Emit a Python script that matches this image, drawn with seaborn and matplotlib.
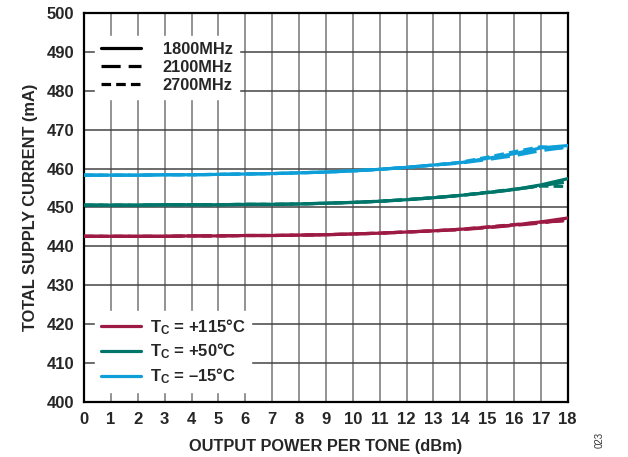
import numpy as np
import pandas as pd
import matplotlib
matplotlib.use("Agg")
import matplotlib.pyplot as plt
from matplotlib.lines import Line2D
import seaborn as sns

# Output power per tone (dBm)
power = [0, 1, 2, 3, 4, 5, 6, 7, 8, 9, 10, 11, 12, 13, 14, 15, 16, 17, 18]

# Total supply current (mA) per case temperature and frequency
red_1800 = [442.6, 442.6, 442.6, 442.6, 442.7, 442.7, 442.8, 442.8, 442.9, 443.0, 443.2, 443.4, 443.7, 444.0, 444.4, 444.9, 445.5, 446.3, 447.3]
red_2100 = [442.6, 442.6, 442.6, 442.6, 442.7, 442.7, 442.8, 442.8, 442.9, 443.0, 443.2, 443.4, 443.7, 444.0, 444.3, 444.8, 445.4, 446.0, 446.9]
red_2700 = [442.6, 442.6, 442.6, 442.6, 442.7, 442.7, 442.8, 442.8, 442.9, 443.0, 443.2, 443.4, 443.7, 444.0, 444.4, 445.0, 445.6, 446.2, 446.6]

green_1800 = [450.6, 450.6, 450.6, 450.7, 450.7, 450.7, 450.8, 450.8, 450.9, 451.1, 451.3, 451.6, 452.0, 452.5, 453.1, 453.8, 454.6, 455.8, 457.4]
green_2100 = [450.6, 450.6, 450.6, 450.7, 450.7, 450.7, 450.8, 450.8, 450.9, 451.1, 451.3, 451.6, 452.0, 452.5, 453.1, 453.8, 454.6, 455.6, 456.6]
green_2700 = [450.6, 450.6, 450.6, 450.7, 450.7, 450.7, 450.8, 450.8, 450.9, 451.1, 451.3, 451.6, 452.0, 452.5, 453.1, 453.9, 454.7, 455.5, 455.4]

blue_1800 = [458.3, 458.3, 458.3, 458.4, 458.4, 458.5, 458.6, 458.7, 458.9, 459.1, 459.4, 459.8, 460.3, 460.9, 461.5, 462.6, 463.8, 465.3, 465.9]
blue_2100 = [458.3, 458.3, 458.3, 458.4, 458.4, 458.5, 458.6, 458.7, 458.9, 459.1, 459.4, 459.8, 460.3, 460.9, 461.4, 462.3, 463.3, 464.6, 465.5]
blue_2700 = [458.3, 458.3, 458.3, 458.4, 458.4, 458.5, 458.6, 458.7, 458.9, 459.1, 459.4, 459.8, 460.3, 460.9, 461.6, 462.9, 464.3, 465.6, 465.2]

temps = ["+115", "+50", "\u201315"]
freqs = ["1800MHz", "2100MHz", "2700MHz"]
series = {
    ("+115", "1800MHz"): red_1800, ("+115", "2100MHz"): red_2100, ("+115", "2700MHz"): red_2700,
    ("+50", "1800MHz"): green_1800, ("+50", "2100MHz"): green_2100, ("+50", "2700MHz"): green_2700,
    ("\u201315", "1800MHz"): blue_1800, ("\u201315", "2100MHz"): blue_2100, ("\u201315", "2700MHz"): blue_2700,
}

rows = []
for (t, f), vals in series.items():
    for p, v in zip(power, vals):
        rows.append({"power": p, "current": v, "temp": t, "freq": f})
df = pd.DataFrame(rows)

colors = {"+115": "#9c1a44", "+50": "#00766b", "\u201315": "#0e9fd8"}
dashes = {"1800MHz": "", "2100MHz": (6, 2.5), "2700MHz": (3, 1.6)}

sns.set_style("white")
plt.rcParams["font.family"] = ["Liberation Sans", "DejaVu Sans"]
plt.rcParams["font.weight"] = "bold"
plt.rcParams["mathtext.fontset"] = "custom"
plt.rcParams["mathtext.bf"] = "Liberation Sans:bold"
plt.rcParams["mathtext.rm"] = "Liberation Sans:bold"

fig = plt.figure(figsize=(6.28, 4.57), dpi=100)
ax = fig.add_axes([0.134, 0.120, 0.770, 0.852])

sns.lineplot(data=df, x="power", y="current", hue="temp", style="freq",
             palette=colors, dashes=dashes, hue_order=temps, style_order=freqs,
             linewidth=2.3, legend=False, ax=ax, zorder=3)

ax.set_xlim(0, 18)
ax.set_ylim(400, 500)
ax.set_xticks(range(0, 19))
ax.set_yticks(range(400, 501, 10))
ax.grid(False)
for xv in range(1, 18):
    ax.axvline(xv, color="#8a8a8a", lw=1.3, zorder=1)
for yv in range(410, 500, 10):
    ax.axhline(yv, color="#444444", lw=1.1, zorder=1)

ax.tick_params(axis="both", direction="in", length=0, labelsize=12, pad=7)
for lab in ax.get_xticklabels() + ax.get_yticklabels():
    lab.set_fontweight("bold")
for sp in ax.spines.values():
    sp.set_color("black")
    sp.set_linewidth(1.6)

ax.set_xlabel("OUTPUT POWER PER TONE (dBm)", fontsize=11.8, fontweight="bold", labelpad=9)
ax.set_ylabel("TOTAL SUPPLY CURRENT (mA)", fontsize=11.8, fontweight="bold", labelpad=6)

# frequency (line style) legend
style_handles = [Line2D([0], [0], color="black", lw=2.3,
                        linestyle="-" if dashes[f] == "" else (0, dashes[f]))
                 for f in freqs]
leg1 = ax.legend(style_handles, freqs, loc="upper left", bbox_to_anchor=(0.005, 0.962),
                 frameon=True, fancybox=False, edgecolor="white", framealpha=1,
                 handlelength=2.45, handletextpad=1.35, labelspacing=0.2,
                 borderpad=0.35, prop={"weight": "bold", "size": 11.8})
leg1.set_zorder(5)
ax.add_artist(leg1)

# temperature (colour) legend
color_handles = [Line2D([0], [0], color=colors[t], lw=2.3) for t in temps]
color_labels = [r"$\mathbf{T_C}$ = " + t + "\u00b0C" for t in temps]
leg2 = ax.legend(color_handles, color_labels, loc="lower left", bbox_to_anchor=(0.005, 0.005),
                 frameon=True, fancybox=False, edgecolor="white", framealpha=1,
                 handlelength=2.4, handletextpad=0.55, labelspacing=0.3,
                 borderpad=0.35, prop={"weight": "bold", "size": 12})
leg2.set_zorder(5)

fig.text(0.955, 0.02, "023", rotation=90, fontsize=7, fontweight="normal",
         ha="center", va="bottom", color="#333333")

fig.savefig("out.png", dpi=100)
